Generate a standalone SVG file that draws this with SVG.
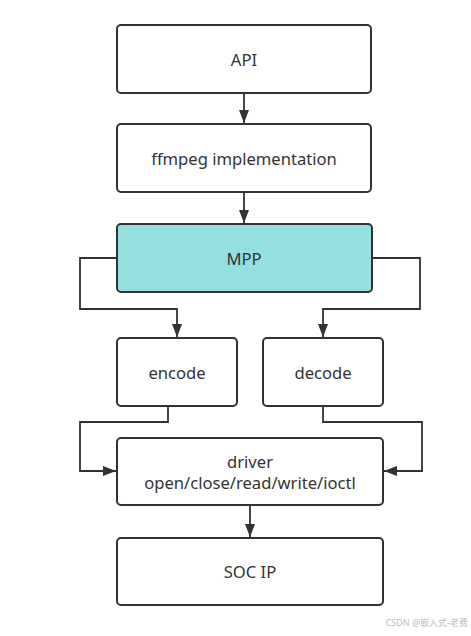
<svg xmlns="http://www.w3.org/2000/svg" width="471" height="636" viewBox="0 0 471 636">
<defs>
<style>
.box{fill:#fff;stroke:#323232;stroke-width:2}
.hl{fill:#94dfe0}
.t{font-family:"Noto Sans","Open Sans",sans-serif;font-size:16.6px;fill:#333;text-anchor:middle;dominant-baseline:central}
.c{fill:none;stroke:#323232;stroke-width:1.8}
</style>
<marker id="ah" viewBox="0 0 13 10" refX="13" refY="5" markerWidth="13" markerHeight="10" markerUnits="userSpaceOnUse" orient="auto">
<path d="M0,0 L13,5 L0,10 Z" fill="#323232"/>
</marker>
</defs>
<rect width="471" height="636" fill="#fff"/>
<g id="connectors">
<path class="c" d="M244,93 V123" marker-end="url(#ah)"/>
<path class="c" d="M244,192 V223" marker-end="url(#ah)"/>
<path class="c" d="M117,258 H80 V309 H177 V337" marker-end="url(#ah)"/>
<path class="c" d="M372,258 H420 V309 H323 V337" marker-end="url(#ah)"/>
<path class="c" d="M168,406 V422 H80 V471 H116" marker-end="url(#ah)"/>
<path class="c" d="M323,406 V422 H422 V471 H384" marker-end="url(#ah)"/>
<path class="c" d="M250,505 V537" marker-end="url(#ah)"/>
</g>
<g id="api"><rect class="box" x="117" y="25" width="254" height="68" rx="4"/><text class="t" x="244" y="59">API</text></g>
<g id="ffmpeg"><rect class="box" x="117" y="124" width="254" height="68" rx="4"/><text class="t" x="244" y="158">ffmpeg implementation</text></g>
<g id="mpp"><rect class="box hl" x="117" y="224" width="255" height="68" rx="4"/><text class="t" x="244" y="258">MPP</text></g>
<g id="encode"><rect class="box" x="117" y="338" width="120" height="68" rx="4"/><text class="t" x="177" y="372">encode</text></g>
<g id="decode"><rect class="box" x="263" y="338" width="120" height="68" rx="4"/><text class="t" x="323" y="372">decode</text></g>
<g id="driver"><rect class="box" x="117" y="438" width="266" height="67" rx="4"/><text class="t" x="250" y="461">driver</text><text class="t" x="250" y="482">open/close/read/write/ioctl</text></g>
<g id="soc"><rect class="box" x="117" y="538" width="266" height="67" rx="4"/><text class="t" x="250" y="571">SOC IP</text></g>
<text x="468" y="622" font-family="'Noto Sans','Noto Sans CJK SC',sans-serif" font-size="9" fill="#bbb" text-anchor="end" dominant-baseline="central">CSDN @嵌入式-老费</text>
</svg>
